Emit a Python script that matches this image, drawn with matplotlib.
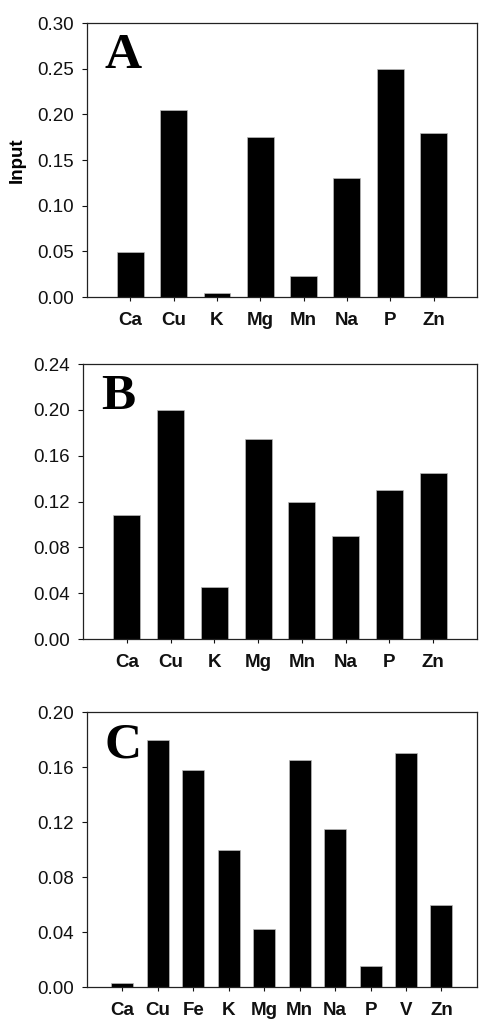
import numpy as np
import matplotlib
matplotlib.use('Agg')
import matplotlib.pyplot as plt

matplotlib.rcParams['font.family'] = 'Liberation Sans'

# Panel data
elements_a = ['Ca', 'Cu', 'K', 'Mg', 'Mn', 'Na', 'P', 'Zn']
values_a = [0.049, 0.205, 0.005, 0.175, 0.023, 0.130, 0.250, 0.180]
yticks_a = [0.00, 0.05, 0.10, 0.15, 0.20, 0.25, 0.30]

elements_b = ['Ca', 'Cu', 'K', 'Mg', 'Mn', 'Na', 'P', 'Zn']
values_b = [0.108, 0.200, 0.045, 0.175, 0.120, 0.090, 0.130, 0.145]
yticks_b = [0.00, 0.04, 0.08, 0.12, 0.16, 0.20, 0.24]

elements_c = ['Ca', 'Cu', 'Fe', 'K', 'Mg', 'Mn', 'Na', 'P', 'V', 'Zn']
values_c = [0.003, 0.180, 0.158, 0.100, 0.042, 0.165, 0.115, 0.015, 0.170, 0.060]
yticks_c = [0.00, 0.04, 0.08, 0.12, 0.16, 0.20]

fig = plt.figure(figsize=(4.79, 10.21), dpi=100)
fig.patch.set_facecolor('white')

panels = [
    ('A', elements_a, values_a, yticks_a, [0.1816, 0.709, 0.814, 0.2684], 'Input'),
    ('B', elements_b, values_b, yticks_b, [0.1733, 0.3741, 0.8225, 0.2693], None),
    ('C', elements_c, values_c, yticks_c, [0.1816, 0.0333, 0.814, 0.2693], None),
]

fontsize = 13.5

for letter, names, vals, yt, pos, ylab in panels:
    ax = fig.add_axes(pos)
    x = np.arange(1, len(names) + 1)
    ax.bar(x, vals, width=0.62, color='black', edgecolor='#bbbbbb', linewidth=0.5)
    ax.set_xlim(0, len(names) + 1)
    ax.set_ylim(yt[0], yt[-1])
    ax.set_yticks(yt)
    ax.set_yticklabels(['%.2f' % v for v in yt])
    ax.set_xticks(x)
    ax.set_xticklabels(names, fontweight='bold')
    ax.tick_params(axis='y', direction='out', length=3.5, width=0.8, pad=6, labelsize=fontsize, colors='#111111')
    ax.tick_params(axis='x', direction='out', length=3, width=0.8, pad=8, labelsize=fontsize, colors='#111111')
    for s in ax.spines.values():
        s.set_linewidth(0.9)
        s.set_color('#222222')
    ax.text(0.045, 0.835, letter, transform=ax.transAxes, fontsize=37,
            fontweight='bold', family='Liberation Serif', va='baseline', ha='left')
    if ylab:
        ax.set_ylabel(ylab, fontweight='bold', fontsize=13.5, labelpad=8)

plt.savefig('out.png', dpi=100)
